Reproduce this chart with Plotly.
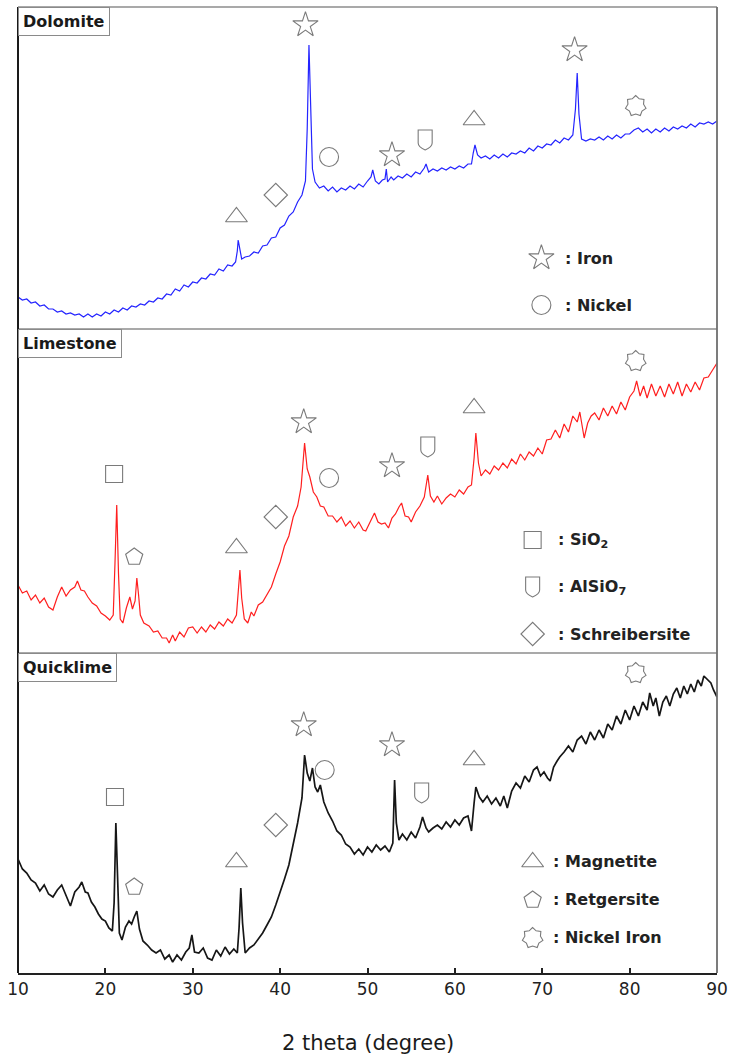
import math
import plotly.graph_objects as go

# ---------------- XRD patterns (2θ in degrees, intensity in a.u.) ----------------
dolomite_2theta = [
    10.0, 10.5, 11.0, 11.5, 12.0, 12.5, 13.0, 13.5, 14.0, 14.5, 15.0, 15.5, 16.0, 16.5, 17.0, 17.5,
    18.0, 18.5, 19.0, 19.5, 20.0, 20.5, 21.0, 21.5, 22.0, 22.5, 23.0, 23.5, 24.0, 24.5, 25.0, 25.5,
    26.0, 26.5, 27.0, 27.5, 28.0, 28.5, 29.0, 29.5, 30.0, 30.5, 31.0, 31.5, 32.0, 32.5, 33.0, 33.5,
    34.0, 34.5, 34.9, 35.1, 35.2, 35.35, 35.6, 36.0, 36.5, 37.0, 37.5, 38.0, 38.5, 39.0, 39.5, 40.0,
    40.5, 41.0, 41.5, 42.0, 42.5, 42.9, 43.1, 43.3, 43.5, 43.7, 44.0, 44.5, 45.0, 45.5, 46.0, 46.5,
    47.0, 47.5, 48.0, 48.5, 49.0, 49.5, 50.0, 50.4, 50.6, 50.9, 51.3, 51.7, 52.0, 52.15, 52.3, 52.7,
    53.0, 53.5, 54.0, 54.5, 55.0, 55.5, 56.0, 56.5, 56.7, 57.0, 57.5, 58.0, 58.5, 59.0, 59.5, 60.0,
    60.5, 61.0, 61.5, 61.9, 62.1, 62.3, 62.6, 63.0, 63.5, 64.0, 64.5, 65.0, 65.5, 66.0, 66.5, 67.0,
    67.5, 68.0, 68.5, 69.0, 69.5, 70.0, 70.5, 71.0, 71.5, 72.0, 72.5, 73.0, 73.5, 73.8, 74.0, 74.2,
    74.5, 75.0, 75.5, 76.0, 76.5, 77.0, 77.5, 78.0, 78.5, 79.0, 79.5, 80.0, 80.5, 81.0, 81.5, 82.0,
    82.5, 83.0, 83.5, 84.0, 84.5, 85.0, 85.5, 86.0, 86.5, 87.0, 87.5, 88.0, 88.5, 89.0, 89.5, 90.0,
]
dolomite_intensity = [
    32, 29, 30, 26, 27, 23, 24, 20, 20, 17, 18, 15, 16, 14, 15, 12,
    15, 12, 15, 13, 17, 15, 19, 17, 21, 19, 23, 22, 25, 24, 28, 27,
    31, 30, 35, 34, 40, 38, 44, 42, 47, 46, 51, 50, 55, 54, 60, 58,
    64, 63, 67, 78, 89, 80, 70, 72, 73, 77, 76, 83, 84, 91, 92, 101,
    104, 113, 117, 127, 134, 148, 200, 284, 210, 160, 147, 141, 143, 138, 142, 137,
    141, 139, 143, 140, 145, 142, 148, 152, 159, 148, 145, 149, 150, 160, 147, 152,
    149, 153, 151, 155, 152, 157, 155, 161, 165, 157, 160, 158, 161, 159, 162, 160,
    163, 161, 165, 165, 176, 184, 174, 171, 173, 170, 174, 171, 175, 172, 176, 175,
    178, 176, 181, 178, 183, 181, 185, 184, 189, 186, 191, 189, 194, 220, 256, 215,
    190, 188, 190, 189, 192, 189, 193, 190, 194, 191, 195, 195, 199, 201, 197, 200,
    196, 200, 197, 201, 198, 202, 200, 203, 201, 205, 202, 206, 205, 207, 205, 208,
]

limestone_2theta = [
    10.0, 10.5, 11.0, 11.5, 12.0, 12.5, 13.0, 13.5, 14.0, 14.5, 15.0, 15.5, 16.0, 16.5, 16.8, 17.2,
    17.6, 18.0, 18.5, 19.0, 19.5, 20.0, 20.5, 20.9, 21.1, 21.3, 21.5, 21.7, 22.0, 22.4, 22.8, 23.1,
    23.4, 23.6, 23.8, 24.0, 24.4, 25.0, 25.5, 26.0, 26.5, 27.0, 27.3, 27.7, 28.0, 28.5, 29.0, 29.5,
    30.0, 30.5, 31.0, 31.5, 32.0, 32.5, 33.0, 33.5, 34.0, 34.5, 35.0, 35.2, 35.4, 35.6, 35.9, 36.3,
    36.7, 37.0, 37.5, 38.0, 38.5, 39.0, 39.5, 40.0, 40.5, 41.0, 41.5, 42.0, 42.4, 42.8, 43.1, 43.4,
    43.8, 44.2, 44.6, 45.0, 45.5, 46.0, 46.5, 47.0, 47.5, 48.0, 48.5, 49.0, 49.5, 49.8, 50.3, 50.8,
    51.2, 51.6, 52.0, 52.4, 52.8, 53.2, 53.6, 53.9, 54.3, 54.7, 55.0, 55.5, 56.0, 56.5, 56.9, 57.2,
    57.6, 58.0, 58.5, 59.0, 59.5, 60.0, 60.5, 61.0, 61.5, 61.9, 62.2, 62.4, 62.7, 63.0, 63.5, 64.0,
    64.5, 65.0, 65.5, 66.0, 66.5, 67.0, 67.5, 68.0, 68.5, 69.0, 69.5, 70.0, 70.5, 71.0, 71.5, 72.0,
    72.5, 73.0, 73.5, 74.0, 74.3, 74.8, 75.2, 75.6, 76.0, 76.5, 77.0, 77.5, 78.0, 78.5, 79.0, 79.5,
    80.0, 80.5, 80.8, 81.2, 81.6, 82.0, 82.5, 83.0, 83.5, 84.0, 84.5, 85.0, 85.5, 86.0, 86.5, 87.0,
    87.5, 88.0, 88.5, 89.0, 89.5, 90.0,
]
limestone_intensity = [
    68, 60, 62, 53, 58, 50, 55, 46, 43, 56, 66, 57, 63, 66, 72, 63,
    62, 56, 50, 47, 40, 37, 33, 38, 90, 148, 80, 34, 30, 45, 56, 44,
    52, 75, 58, 38, 30, 27, 21, 22, 15, 15, 10, 18, 12, 21, 16, 25,
    26, 20, 26, 21, 28, 24, 31, 27, 34, 30, 38, 60, 83, 55, 34, 30,
    41, 37, 48, 51, 59, 66, 79, 91, 107, 117, 136, 147, 166, 210, 184, 176,
    161, 156, 147, 146, 137, 137, 131, 136, 127, 132, 125, 131, 123, 122, 131, 140,
    131, 129, 130, 125, 135, 139, 146, 150, 137, 136, 131, 141, 147, 156, 178, 157,
    151, 157, 149, 155, 159, 156, 163, 159, 166, 168, 195, 220, 190, 177, 183, 179,
    187, 183, 190, 185, 194, 189, 199, 193, 201, 197, 205, 199, 213, 214, 223, 215,
    229, 221, 237, 231, 241, 215, 230, 237, 240, 233, 245, 237, 247, 239, 251, 243,
    256, 262, 272, 257, 267, 255, 269, 257, 267, 256, 269, 259, 271, 257, 269, 261,
    271, 263, 275, 276, 283, 290,
]

quicklime_2theta = [
    10.0, 10.5, 11.0, 11.5, 12.0, 12.5, 13.0, 13.5, 14.0, 14.5, 15.0, 15.5, 16.0, 16.5, 17.0, 17.3,
    17.7, 18.0, 18.4, 18.8, 19.2, 19.6, 20.0, 20.4, 20.8, 21.0, 21.2, 21.4, 21.6, 21.9, 22.3, 22.7,
    23.0, 23.3, 23.6, 23.9, 24.3, 24.8, 25.3, 25.8, 26.3, 26.8, 27.3, 27.7, 28.2, 28.7, 29.2, 29.6,
    29.9, 30.2, 30.7, 31.2, 31.7, 32.2, 32.7, 33.2, 33.7, 34.2, 34.7, 35.1, 35.3, 35.5, 35.7, 36.0,
    36.5, 37.0, 37.5, 38.0, 38.5, 39.0, 39.5, 40.0, 40.5, 41.0, 41.5, 42.0, 42.5, 42.8, 43.1, 43.4,
    43.7, 44.0, 44.3, 44.6, 45.0, 45.5, 46.0, 46.5, 47.0, 47.5, 48.0, 48.5, 49.0, 49.5, 50.0, 50.5,
    51.0, 51.5, 52.0, 52.5, 52.9, 53.1, 53.3, 53.6, 54.0, 54.5, 55.0, 55.5, 56.0, 56.3, 56.7, 57.0,
    57.5, 58.0, 58.5, 59.0, 59.5, 60.0, 60.5, 61.0, 61.5, 61.9, 62.2, 62.4, 62.8, 63.2, 63.7, 64.2,
    64.7, 65.2, 65.6, 66.0, 66.5, 67.0, 67.5, 68.0, 68.5, 69.0, 69.4, 69.8, 70.2, 70.6, 70.9, 71.3,
    71.7, 72.0, 72.5, 73.0, 73.5, 74.0, 74.5, 75.0, 75.5, 76.0, 76.5, 77.0, 77.5, 78.0, 78.5, 79.0,
    79.5, 80.0, 80.5, 81.0, 81.5, 82.0, 82.3, 82.7, 83.0, 83.4, 83.8, 84.2, 84.6, 85.0, 85.4, 85.8,
    86.2, 86.6, 87.0, 87.4, 87.8, 88.2, 88.5, 88.9, 89.3, 89.6, 90.0,
]
quicklime_intensity = [
    114, 104, 100, 93, 90, 82, 88, 79, 76, 83, 88, 77, 67, 81, 86, 91,
    81, 80, 71, 66, 59, 54, 52, 45, 42, 70, 150, 95, 40, 33, 46, 52,
    49, 56, 62, 44, 32, 28, 23, 20, 23, 14, 18, 11, 18, 13, 21, 25,
    38, 21, 20, 25, 15, 13, 23, 17, 26, 19, 24, 20, 45, 85, 50, 20,
    25, 28, 34, 40, 48, 56, 68, 80, 94, 108, 128, 150, 175, 218, 200, 192,
    205, 186, 181, 188, 171, 160, 152, 142, 138, 129, 126, 119, 124, 118, 126, 121,
    128, 123, 127, 121, 130, 193, 150, 133, 139, 133, 141, 135, 146, 156, 145, 141,
    145, 148, 144, 151, 146, 153, 148, 155, 157, 142, 170, 186, 176, 171, 177, 169,
    175, 167, 177, 165, 182, 190, 185, 197, 191, 203, 206, 197, 201, 195, 192, 206,
    212, 216, 221, 227, 221, 233, 237, 229, 241, 233, 243, 235, 249, 243, 257, 249,
    263, 253, 267, 257, 271, 263, 280, 267, 275, 257, 271, 277, 267, 279, 285, 275,
    287, 279, 289, 281, 293, 287, 297, 293, 290, 283, 276,
]

# ---------------- phase identifications (marker 2θ, marker height in a.u.) ----------------
dolomite_phase = ["Magnetite", "Schreibersite", "Iron", "Nickel", "Iron", "AlSiO7", "Magnetite", "Iron", "Nickel Iron"]
dolomite_phase_2theta = [35.0, 39.5, 42.9, 45.6, 52.8, 56.6, 62.2, 73.7, 80.7]
dolomite_phase_height = [112, 134, 304, 172, 174, 189, 209, 279, 223]

limestone_phase = ["SiO2", "Retgersite", "Magnetite", "Schreibersite", "Iron", "Nickel", "Iron", "AlSiO7", "Magnetite", "Nickel Iron"]
limestone_phase_2theta = [21.0, 23.3, 35.0, 39.5, 42.7, 45.6, 52.8, 56.9, 62.2, 80.7]
limestone_phase_height = [179, 96, 105, 136, 231, 175, 187, 206, 245, 292]

quicklime_phase = ["SiO2", "Retgersite", "Magnetite", "Schreibersite", "Iron", "Nickel", "Iron", "AlSiO7", "Magnetite", "Nickel Iron"]
quicklime_phase_2theta = [21.1, 23.3, 35.0, 39.5, 42.7, 45.1, 52.8, 56.2, 62.2, 80.7]
quicklime_phase_height = [176, 86, 111, 148, 248, 203, 228, 180, 213, 300]

# key entries shown inside each panel
dolomite_key = ["Iron", "Nickel"]
limestone_key = ["SiO2", "AlSiO7", "Schreibersite"]
quicklime_key = ["Magnetite", "Retgersite", "Nickel Iron"]
key_text = {
    "Iron": ": Iron", "Nickel": ": Nickel", "SiO2": ": SiO<sub>2</sub>",
    "AlSiO7": ": AlSiO<sub>7</sub>", "Schreibersite": ": Schreibersite",
    "Magnetite": ": Magnetite", "Retgersite": ": Retgersite", "Nickel Iron": ": Nickel Iron",
}

samples = ["Dolomite", "Limestone", "Quicklime"]
x_ticks = [10, 20, 30, 40, 50, 60, 70, 80, 90]

# ---------------- styling ----------------
W, H = 735, 1064
M_L, M_R, M_T, M_B = 14, 13, 7, 91
PLOT_H = H - M_T - M_B
panel_px = [322, 324, 320]           # heights of the three stacked panels (top → bottom)
line_colors = ["#2424ff", "#ff1f1f", "#161616"]
line_widths = [1.2, 1.2, 1.7]
SYM_COLOR = "#7a7a7a"
FONT = "DejaVu Sans"

plotly_symbols = {
    "Iron": ("star-open", 19), "Nickel": ("circle-open", 19), "SiO2": ("square-open", 17),
    "Schreibersite": ("diamond-open", 18), "Magnetite": ("triangle-up-open", 19),
    "Retgersite": ("pentagon-open", 18),
}


def heptagram_path(r_out=10.5, r_in=8.0, n=7):
    pts = []
    for k in range(2 * n):
        r = r_out if k % 2 == 0 else r_in
        a = math.pi / 2 + k * math.pi / n
        pts.append((r * math.cos(a), r * math.sin(a)))
    return "M" + " L".join(f"{px:.2f},{py:.2f}" for px, py in pts) + " Z"


custom_paths = {
    "AlSiO7": "M-7,10 L7,10 L7,-3 Q7,-7 0,-10 Q-7,-7 -7,-3 Z",
    "Nickel Iron": heptagram_path(),
}

# paper-domain of each panel (top panel first)
domains = []
top = 1.0
for h in panel_px:
    bottom = top - h / PLOT_H
    domains.append([max(bottom, 0.0), top])
    top = bottom

fig = go.Figure()
shapes = []
annotations = []

pattern_x = [dolomite_2theta, limestone_2theta, quicklime_2theta]
pattern_y = [dolomite_intensity, limestone_intensity, quicklime_intensity]
phase_names = [dolomite_phase, limestone_phase, quicklime_phase]
phase_x = [dolomite_phase_2theta, limestone_phase_2theta, quicklime_phase_2theta]
phase_y = [dolomite_phase_height, limestone_phase_height, quicklime_phase_height]
keys = [dolomite_key, limestone_key, quicklime_key]

# key layout per panel: symbol 2θ, text 2θ, first row height, row spacing (a.u.)
key_layout = [
    dict(sym_x=69.9, txt_x=72.4, y0=71, dy=47),
    dict(sym_x=68.9, txt_x=71.6, y0=113, dy=47),
    dict(sym_x=68.9, txt_x=71.0, y0=111, dy=38),
]


def add_symbol(name, x, y, xref, yref):
    if name in custom_paths:
        shapes.append(dict(
            type="path", path=custom_paths[name], xref=xref, yref=yref,
            xsizemode="pixel", ysizemode="pixel", xanchor=x, yanchor=y,
            line=dict(color=SYM_COLOR, width=1.1), fillcolor="rgba(0,0,0,0)", layer="above",
        ))
    else:
        sym, size = plotly_symbols[name]
        fig.add_trace(go.Scatter(
            x=[x], y=[y], mode="markers", xaxis=xref, yaxis=yref, showlegend=False,
            hoverinfo="skip",
            marker=dict(symbol=sym, size=size, color=SYM_COLOR, line=dict(width=1.1, color=SYM_COLOR)),
        ))


for i, name in enumerate(samples):
    ax = "y" if i == 0 else f"y{i + 1}"
    fig.add_trace(go.Scatter(
        x=pattern_x[i], y=pattern_y[i], mode="lines", name=name, xaxis="x", yaxis=ax,
        line=dict(color=line_colors[i], width=line_widths[i]), showlegend=False,
    ))
    for ph, px_, py_ in zip(phase_names[i], phase_x[i], phase_y[i]):
        add_symbol(ph, px_, py_, "x", ax)
    kl = key_layout[i]
    for r, ph in enumerate(keys[i]):
        yk = kl["y0"] - r * kl["dy"]
        add_symbol(ph, kl["sym_x"], yk, "x", ax)
        annotations.append(dict(
            x=kl["txt_x"], y=yk, xref="x", yref=ax, text=key_text[ph], showarrow=False,
            xanchor="left", yanchor="middle",
            font=dict(family=FONT, size=16, color="#222222", weight="bold"),
        ))
    # sample name box in the upper-left corner of the panel
    annotations.append(dict(
        x=0.0, y=domains[i][1], xref="paper", yref="paper", text=name, showarrow=False,
        xanchor="left", yanchor="top", bgcolor="white", bordercolor="#8a8a8a",
        borderwidth=1, borderpad=4,
        font=dict(family=FONT, size=16, color="#1a1a1a", weight="bold"),
    ))
    # panel separators / frame
    shapes.append(dict(type="line", xref="paper", yref="paper", x0=0, x1=1,
                       y0=domains[i][1], y1=domains[i][1],
                       line=dict(color="#8c8c8c", width=1.6), layer="above"))

# right frame and left spine
shapes.append(dict(type="line", xref="paper", yref="paper", x0=1, x1=1, y0=0, y1=1,
                   line=dict(color="#6e6e6e", width=1.8), layer="above"))
shapes.append(dict(type="line", xref="paper", yref="paper", x0=0, x1=0, y0=0, y1=1,
                   line=dict(color="#1a1a1a", width=2), layer="above"))

annotations.append(dict(
    x=0.5, y=-(1043 - (H - M_B)) / PLOT_H, xref="paper", yref="paper",
    text="2 theta (degree)", showarrow=False, xanchor="center", yanchor="middle",
    font=dict(family=FONT, size=21, color="#1a1a1a"),
))

layout_axes = {}
for i in range(3):
    key = "yaxis" if i == 0 else f"yaxis{i + 1}"
    layout_axes[key] = dict(
        domain=domains[i], range=[0, panel_px[i]], showticklabels=False, showgrid=False,
        zeroline=False, showline=False, ticks="", fixedrange=True,
    )

fig.update_layout(
    width=W, height=H, margin=dict(l=M_L, r=M_R, t=M_T, b=M_B),
    paper_bgcolor="white", plot_bgcolor="white",
    xaxis=dict(
        range=[10, 90], tickvals=x_ticks, ticktext=[str(t) for t in x_ticks],
        ticks="inside", ticklen=5, tickwidth=1.5, tickcolor="#222222",
        showline=True, linecolor="#222222", linewidth=1.8, showgrid=False, zeroline=False,
        anchor="y3", tickfont=dict(family=FONT, size=17, color="#222222"),
    ),
    shapes=shapes, annotations=annotations,
    **layout_axes,
)

fig.write_html("out.html")
